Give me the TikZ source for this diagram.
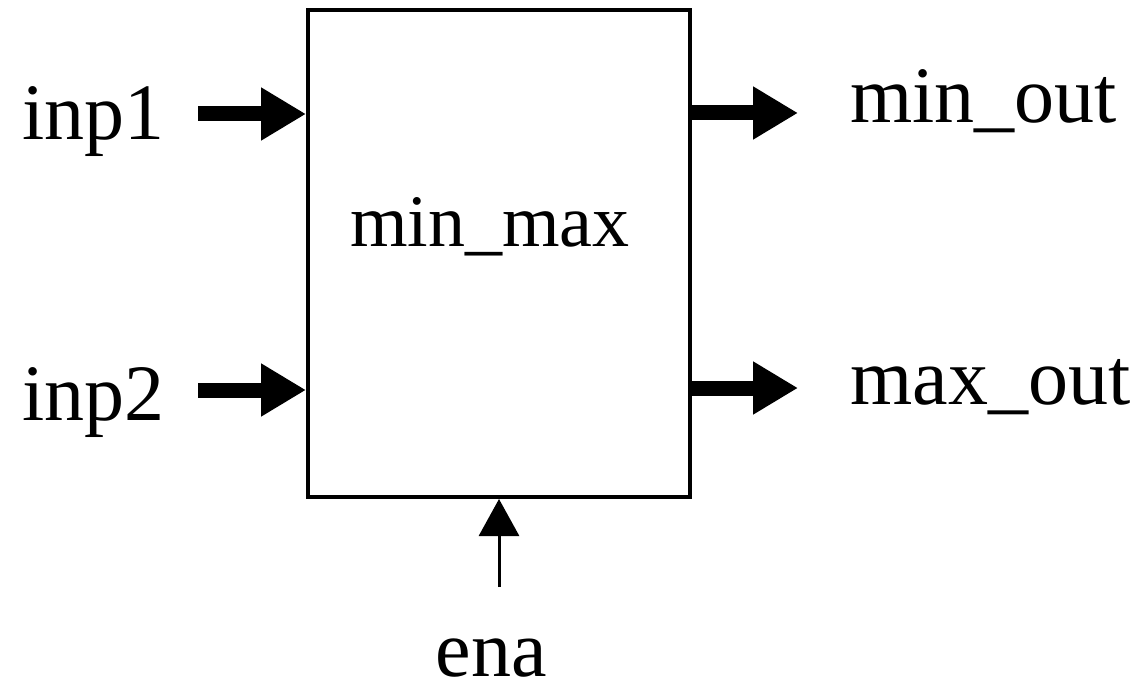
\documentclass[tikz,border=0pt]{standalone}
\usepackage{fontspec}
\setmainfont{Liberation Serif}
\usetikzlibrary{arrows.meta}
\begin{document}
\begin{tikzpicture}[x=0.5pt,y=-0.5pt,
  lbl/.style={inner sep=0pt, font=\fontsize{40}{48}\selectfont},
  blockname/.style={inner sep=0pt, font=\fontsize{37}{44}\selectfont},
  block/.style={draw, line width=2pt, minimum width=191pt, minimum height=243.5pt, inner sep=0pt},
  bus/.style={line width=7.5pt, -{Triangle[length=22.5pt,width=25pt]}},
  ctrl/.style={line width=1.5pt, -{Triangle[length=18.5pt,width=20pt]}}]
\useasboundingbox (0,0) rectangle (1143,689);

% the min_max block
\node[block] (mm) at (499,253.5) {};
\node[blockname, anchor=base] (mmname) at (490,247) {min\_max};

% port labels
\node[lbl, anchor=base west] (inp1) at (22,140) {inp1};
\node[lbl, anchor=base west] (inp2) at (22,420) {inp2};
\node[lbl, anchor=base west] (minout) at (850,123) {min\_out};
\node[lbl, anchor=base west] (maxout) at (850,404) {max\_out};
\node[lbl, anchor=base] (ena) at (491,676) {ena};

% free ends of the connectors
\coordinate (i1s) at (198,114);
\coordinate (i2s) at (198,390);
\coordinate (o1e) at (798,113);
\coordinate (o2e) at (798,388);
\coordinate (ens) at (499,587);

% inputs and outputs
\draw[bus] (i1s) -- (mm.west |- i1s);
\draw[bus] (i2s) -- (mm.west |- i2s);
\draw[bus] (mm.east |- o1e) -- (o1e);
\draw[bus] (mm.east |- o2e) -- (o2e);
\draw[ctrl] (ens) -- (mm.south -| ens);
\end{tikzpicture}
\end{document}
